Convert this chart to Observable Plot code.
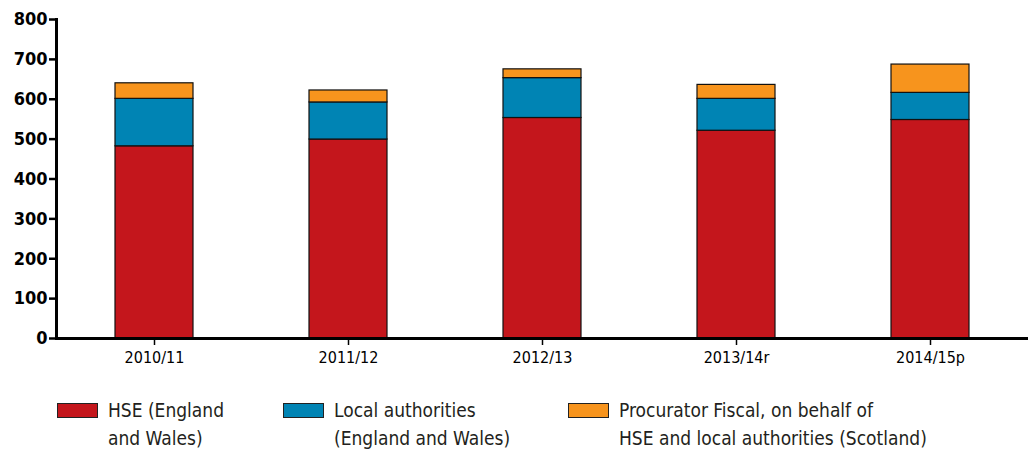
<!DOCTYPE html>
<html>
<head>
<meta charset="utf-8">
<script src="https://cdn.jsdelivr.net/npm/d3@7"></script>
<script src="https://cdn.jsdelivr.net/npm/@observablehq/plot@0.6"></script>
<style>
  html, body { margin: 0; padding: 0; background: #fff; }
  body { width: 1033px; height: 453px; overflow: hidden; font-family: "Liberation Sans Narrow", "DejaVu Sans Condensed", "Roboto", sans-serif; }
  #chart svg { display: block; }
  #legend { position: relative; height: 78px; color: #231f20; font-size: 19px; line-height: 28px; }
  .item { position: absolute; top: 21px; display: flex; align-items: flex-start; }
  .sw { width: 39px; height: 13px; border: 1px solid #222; margin-top: 7px; margin-right: 10px; flex: none; }
</style>
</head>
<body>
<div id="chart"></div>
<div id="legend"></div>
<script>
const years = ["2010/11", "2011/12", "2012/13", "2013/14r", "2014/15p"];
const seriesNames = [
  "HSE (England and Wales)",
  "Local authorities (England and Wales)",
  "Procurator Fiscal, on behalf of HSE and local authorities (Scotland)"
];
const hse = [482, 499, 553, 521, 548];
const localAuth = [119, 93, 100, 80, 68];
const procFiscal = [39, 30, 22, 35, 71];
const colors = ["#c4161c", "#0084b4", "#f7941d"];
const yTicks = [0, 100, 200, 300, 400, 500, 600, 700, 800];
const legendLines = [
  ["HSE (England", "and Wales)"],
  ["Local authorities", "(England and Wales)"],
  ["Procurator Fiscal, on behalf of", "HSE and local authorities (Scotland)"]
];

const seriesValues = [hse, localAuth, procFiscal];
const data = [];
seriesNames.forEach((s, si) => {
  years.forEach((y, yi) => data.push({year: y, series: s, value: seriesValues[si][yi]}));
});

const chart = Plot.plot({
  width: 1033,
  height: 375,
  marginTop: 19,
  marginBottom: 37,
  marginLeft: 56,
  marginRight: 5,
  style: {fontFamily: '"Liberation Sans Narrow", "DejaVu Sans Condensed", sans-serif', color: "#000", background: "#fff"},
  x: {domain: years, paddingInner: 0.6, paddingOuter: 0.3, label: null},
  y: {domain: [0, 800], label: null},
  color: {domain: seriesNames, range: colors},
  marks: [
    Plot.barY(data, {x: "year", y: "value", fill: "series", stroke: "#111", strokeWidth: 1.2, order: seriesNames}),
    Plot.axisY({ticks: yTicks, tickSize: 7, tickPadding: 2, fontSize: 18, fontWeight: "bold", stroke: "#000", strokeWidth: 2.5, label: null}),
    Plot.axisX({tickSize: 7, tickPadding: 6, fontSize: 16, stroke: "#000", strokeWidth: 1.5, label: null}),
    Plot.ruleY([0], {stroke: "#000", strokeWidth: 3}),
    Plot.frame({anchor: "left", stroke: "#000", strokeWidth: 3})
  ]
});
document.getElementById("chart").appendChild(chart);

const legend = document.getElementById("legend");
const lefts = [57, 283, 568];
seriesNames.forEach((s, i) => {
  const item = document.createElement("div");
  item.className = "item";
  item.style.left = lefts[i] + "px";
  const sw = document.createElement("div");
  sw.className = "sw";
  sw.style.background = colors[i];
  const txt = document.createElement("div");
  txt.innerHTML = legendLines[i].join("<br>");
  item.appendChild(sw);
  item.appendChild(txt);
  legend.appendChild(item);
});
</script>
</body>
</html>
